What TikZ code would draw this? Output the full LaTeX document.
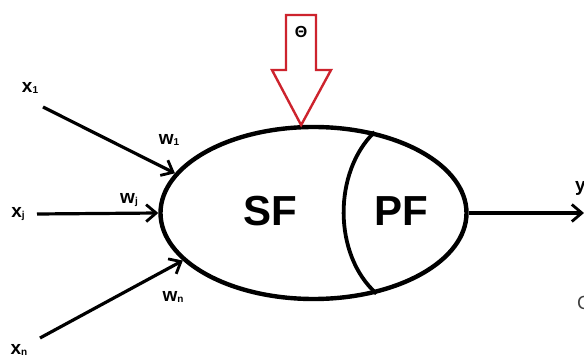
\documentclass[tikz,border=0pt]{standalone}
\usepackage{fontspec}
\setmainfont{Liberation Sans}
\usetikzlibrary{shapes.geometric,arrows.meta}

\definecolor{arrowred}{RGB}{205,35,45}

% variable with a small index set next to it
\newcommand{\varlbl}[2]{\fontsize{19}{19}\selectfont\bfseries #1\raisebox{-0.5pt}{\fontsize{10}{10}\selectfont #2}}

\tikzset{
  lbl/.style={inner sep=0pt, font=\fontsize{19}{19}\selectfont\bfseries},
  bigtext/.style={inner sep=0pt, font=\fontsize{42}{42}\selectfont\bfseries},
  inarrow/.style={line width=3.2pt, -{Straight Barb[length=10pt, width=17pt, line width=2.8pt]}},
  cellshape/.style={draw, ellipse, line width=4.4pt, minimum width=306pt, minimum height=172pt, inner sep=0pt},
  threshold/.style={draw=arrowred, line width=2.4pt, line join=miter, fill=white}
}

\begin{document}
\begin{tikzpicture}[x=1pt, y=-1pt]
  \useasboundingbox (0,0) rectangle (584,358);
  \fill[white] (0,0) rectangle (584,358);

  % neuron body
  \node[cellshape] (cell) at (313.5,213) {};

  % divider between summation and processing parts
  \draw[line width=3.8pt] (cell.53) .. controls (333,172) and (333,255) .. (cell.-52);

  \node[bigtext] (sf) at (270,211) {SF};
  \node[bigtext] (pf) at (401,211) {PF};

  % inputs
  \node[lbl] (x1) at (30,88) {\varlbl{x}{1}};
  \node[lbl] (xj) at (18,214) {\varlbl{x}{j}};
  \node[lbl] (xn) at (19,350) {\varlbl{x}{n}};

  \coordinate (s1) at (43,107);
  \coordinate (sj) at (37,214);
  \coordinate (sn) at (40,338);

  \draw[inarrow] (s1) -- (cell.164.5);
  \draw[inarrow] (sj) -- (cell.west);
  \draw[inarrow] (sn) -- (cell.200.4);

  % weights
  \node[lbl] (w1) at (169,140) {\varlbl{w}{1}};
  \node[lbl] (wj) at (129,200) {\varlbl{w}{j}};
  \node[lbl] (wn) at (173,297) {\varlbl{w}{n}};

  % output
  \coordinate (yend) at (584,213);
  \draw[inarrow] (cell.east) -- (yend);
  \node[lbl, anchor=west] (y) at (575,188) {y};
  \node[inner sep=0pt, anchor=west, font=\fontsize{19}{19}\selectfont, text=black!75] (c) at (577,303) {C};

  % threshold arrow
  \draw[threshold] (286,15) -- (316,15) -- (316,70) -- (331,70)
    -- (cell.98.3) -- (272,70) -- (286,70) -- cycle;
  \node[inner sep=0pt, font=\fontsize{16}{16}\selectfont\bfseries] (theta) at (301,32) {Θ};
\end{tikzpicture}
\end{document}
